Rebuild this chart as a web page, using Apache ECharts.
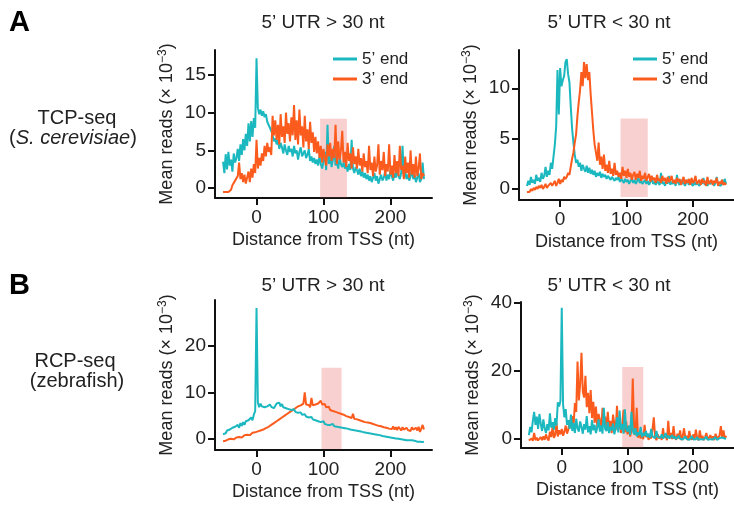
<!DOCTYPE html>
<html>
<head>
<meta charset="utf-8">
<title>Mean reads around TSS</title>
<script src="https://cdn.jsdelivr.net/npm/echarts@6/dist/echarts.min.js"></script>
<style>
  html, body { margin: 0; padding: 0; background: #fff; }
  #chart { width: 734px; height: 510px; }
</style>
</head>
<body>
<div id="chart"></div>
<script>
// distance from TSS (nt), one point every 2 nt
const startNt = -50, stepNt = 2, endNt = 250;
const xTicks = [0, 100, 200];

// TCP-seq, 5' UTR > 30 nt
const tcpLong5 = [
  3.5, 2.0, 4.5, 2.5, 4.8, 3.0, 3.8, 2.2, 4.6, 3.4,
  4.0, 5.2, 3.6, 5.8, 4.4, 6.5, 5.0, 7.2, 5.6, 8.6,
  6.2, 8.9, 6.8, 9.3, 8.0, 17.2, 10.6, 9.8, 10.4, 9.6,
  10.2, 9.4, 9.8, 8.8, 9.0, 8.0, 7.6, 7.0, 6.2, 6.6,
  5.8, 6.4, 5.2, 6.0, 5.4, 4.6, 5.8, 5.0, 4.4, 5.6,
  4.8, 5.2, 4.2, 5.6, 4.6, 5.0, 3.8, 4.8, 5.4, 4.2,
  4.6, 5.0, 4.0, 4.4, 5.2, 3.6, 4.2, 3.4, 4.0, 3.2,
  3.8, 3.0, 4.2, 3.2, 2.6, 3.6, 4.8, 2.4, 8.4, 3.2,
  4.6, 2.8, 3.8, 5.6, 3.0, 3.6, 2.6, 4.0, 3.2, 2.8,
  3.4, 2.6, 3.0, 2.2, 3.2, 2.4, 6.4, 2.6, 2.0, 2.8,
  2.4, 1.8, 2.6, 1.6, 2.2, 1.4, 2.0, 1.2, 1.8, 1.0,
  1.6, 0.8, 1.4, 2.0, 1.0, 1.6, 0.6, 1.2, 1.8, 1.0,
  1.4, 2.2, 1.0, 1.8, 1.2, 2.4, 1.6, 1.0, 2.0, 1.4,
  2.6, 1.6, 1.2, 2.0, 5.6, 1.4, 2.2, 1.2, 1.8, 1.0,
  1.6, 2.4, 1.2, 1.8, 0.8, 1.4, 2.0, 0.8, 1.2, 3.4,
  1.2
];
const tcpLong3 = [
  -0.5, -0.5, -0.5, -0.5, -0.5, -0.4, -0.2, 0.4, 0.2, 1.0,
  0.8, 1.6, 3.4, 1.2, 2.0, 0.8, 1.8, 0.6, 1.4, 2.2,
  0.8, 2.6, 1.4, 3.2, 2.0, 6.4, 2.6, 4.0, 3.0, 4.6,
  3.6, 5.6, 4.2, 6.0, 4.8, 5.4, 4.4, 9.6, 7.0, 9.0,
  6.4, 8.4, 5.8, 9.8, 6.8, 8.2, 6.0, 10.0, 7.2, 8.6,
  6.2, 9.4, 7.0, 11.0, 6.4, 9.0, 5.8, 10.4, 7.0, 8.2,
  5.4, 9.6, 6.2, 7.8, 5.2, 8.8, 6.0, 7.4, 4.8, 6.8,
  4.6, 6.2, 4.0, 5.6, 3.4, 5.2, 4.0, 3.0, 5.8, 4.2,
  6.0, 3.6, 5.2, 4.0, 8.4, 3.2, 6.2, 3.8, 5.0, 7.6,
  3.4, 4.8, 2.8, 6.0, 3.6, 4.6, 2.6, 5.4, 3.2, 4.2,
  2.6, 5.2, 3.0, 4.0, 2.2, 4.6, 2.8, 3.6, 2.0, 5.6,
  2.4, 3.4, 1.6, 4.2, 2.2, 3.0, 5.8, 1.8, 3.6, 2.4,
  4.8, 1.6, 3.2, 2.2, 5.8, 1.8, 3.0, 1.4, 4.4, 2.0,
  3.6, 1.6, 5.6, 2.4, 3.0, 1.2, 4.2, 2.0, 3.4, 1.4,
  5.0, 1.8, 3.2, 1.4, 4.2, 1.6, 2.6, 4.6, 1.2, 2.0,
  1.6
];

// TCP-seq, 5' UTR < 30 nt
const tcpShort5 = [
  0.3, 0.8, 0.4, 1.2, 0.6, 0.9, 0.5, 1.4, 0.8, 1.1,
  0.7, 1.6, 1.0, 1.3, 2.2, 1.2, 1.8, 1.4, 2.6, 2.0,
  3.2, 4.4, 6.2, 11.8, 7.4, 12.0, 10.2, 10.8, 11.2, 12.6,
  12.9, 11.4, 10.6, 8.2, 6.0, 4.6, 3.4, 2.6, 2.9, 2.2,
  2.6, 1.8, 2.4, 2.0, 1.7, 2.3, 1.6, 2.1, 1.5, 1.9,
  1.4, 1.8, 1.2, 1.6, 1.3, 1.7, 1.1, 1.5, 1.2, 1.4,
  1.0, 1.3, 1.1, 0.9, 1.2, 1.0, 0.8, 1.1, 0.9, 1.2,
  0.7, 1.0, 0.8, 0.6, 1.0, 0.7, 0.9, 0.5, 0.8, 1.0,
  0.6, 0.9, 0.5, 0.8, 1.1, 0.6, 0.8, 0.5, 0.7, 0.9,
  0.5, 0.8, 0.4, 0.7, 1.2, 0.5, 0.7, 0.4, 0.8, 0.6,
  0.4, 1.6, 0.5, 0.7, 0.3, 0.9, 0.5, 1.3, 0.4, 0.7,
  0.5, 0.8, 0.3, 1.4, 0.6, 0.4, 0.9, 0.5, 0.7, 0.3,
  0.6, 0.9, 0.4, 0.7, 0.5, 0.3, 0.8, 0.4, 0.6, 0.5,
  0.3, 0.7, 0.5, 1.1, 0.4, 0.6, 0.3, 0.8, 0.5, 0.4,
  0.7, 0.3, 0.6, 1.2, 0.4, 0.5, 0.3, 0.9, 0.4, 1.0,
  0.5
];
const tcpShort3 = [
  -0.3, -0.2, -0.3, 0.0, -0.2, 0.1, -0.1, 0.2, 0.0, 0.3,
  0.1, 0.4, 0.0, 0.2, 0.5, 0.1, 0.3, 0.2, 0.6, 0.3,
  0.4, 0.8, 0.3, 0.6, 1.0, 0.5, 0.9, 0.7, 1.2, 1.0,
  1.2, 1.6, 1.4, 2.2, 3.0, 3.6, 4.6, 5.4, 7.2, 8.6,
  9.8, 11.6, 10.2, 12.6, 11.0, 12.4, 10.8, 11.6, 9.4, 7.6,
  5.8, 4.4, 3.6, 2.8, 4.6, 2.4, 3.2, 2.0, 3.4, 1.8,
  2.4, 1.6, 2.8, 1.5, 2.0, 1.3, 2.6, 1.4, 1.8, 1.2,
  1.6, 1.0, 2.2, 1.3, 1.8, 1.1, 2.0, 1.2, 1.6, 0.9,
  1.4, 1.7, 0.9, 1.5, 1.1, 1.8, 0.8, 1.3, 1.0, 1.6,
  0.8, 1.2, 1.5, 0.7, 1.3, 0.9, 1.1, 0.6, 1.4, 0.8,
  1.0, 0.6, 1.3, 0.8, 1.1, 0.5, 1.2, 0.7, 0.9, 1.3,
  0.6, 0.9, 0.5, 1.1, 0.7, 1.0, 0.4, 0.8, 1.2, 0.5,
  0.9, 0.6, 1.0, 0.4, 1.1, 0.6, 0.8, 1.3, 0.5, 0.7,
  0.9, 0.4, 1.0, 0.6, 0.8, 0.3, 1.2, 0.5, 0.7, 0.9,
  0.4, 0.8, 0.6, 1.1, 0.3, 0.7, 0.5, 0.9, 0.4, 0.6,
  0.4
];

// RCP-seq, 5' UTR > 30 nt
const rcpLong5 = [
  1.0, 1.4, 1.2, 1.8, 1.5, 2.0, 1.6, 2.4, 2.0, 2.6,
  2.2, 3.0, 2.4, 3.4, 2.8, 3.6, 3.0, 3.8, 3.4, 4.0,
  3.6, 4.6, 4.0, 5.2, 6.0, 28.2, 7.8, 6.8, 7.6, 7.0,
  7.4, 6.8, 7.2, 7.0, 6.6, 7.4, 6.9, 7.2, 6.6, 7.0,
  7.6, 7.2, 7.8, 7.0, 7.5, 6.8, 7.2, 6.6, 6.9, 6.4,
  6.8, 6.2, 6.0, 6.4, 5.8, 6.0, 5.6, 5.4, 5.7, 5.2,
  5.0, 5.3, 4.8, 5.0, 4.6, 4.4, 4.7, 4.2, 4.4, 4.0,
  4.2, 3.8, 4.0, 3.6, 3.4, 3.8, 3.2, 3.5, 3.0, 3.4,
  3.0, 2.8, 3.2, 2.7, 3.0, 2.6, 2.8, 2.5, 2.9, 2.4,
  2.6, 2.3, 2.5, 2.2, 2.4, 2.0, 2.3, 1.9, 2.1, 1.8,
  2.0, 1.7, 1.9, 1.6, 1.8, 1.4, 1.6, 1.3, 1.5, 1.2,
  1.4, 1.1, 1.3, 1.0, 1.2, 0.9, 1.0, 0.8, 0.9, 0.6,
  0.8, 0.5, 0.7, 0.4, 0.5, 0.3, 0.4, 0.2, 0.3, 0.1,
  0.2, 0.0, 0.1, -0.1, 0.0, -0.2, -0.1, -0.3, -0.2, -0.3,
  -0.4, -0.3, -0.5, -0.4, -0.5, -0.6, -0.5, -0.6, -0.6, -0.7,
  -0.6
];
const rcpLong3 = [
  -0.5, -0.3, -0.4, -0.2, -0.1, -0.3, 0.0, 0.1, -0.1, 0.2,
  0.3, 0.1, 0.4, 0.5, 0.3, 0.6, 0.8, 0.6, 0.9, 1.0,
  0.8, 1.1, 1.3, 1.0, 1.4, 1.2, 1.6, 1.5, 1.8, 1.6,
  2.0, 1.8, 2.3, 2.1, 2.6, 2.4, 3.0, 2.8, 3.4, 3.2,
  3.8, 3.6, 4.2, 4.0, 4.6, 4.3, 5.0, 4.8, 5.4, 5.1,
  5.8, 5.5, 6.2, 5.9, 6.6, 6.2, 7.0, 6.6, 7.2, 6.8,
  7.6, 10.0, 7.4, 7.0, 7.3, 6.8, 8.8, 7.2, 6.9, 7.4,
  7.0, 7.6, 7.2, 8.2, 7.4, 7.0, 7.5, 6.8, 6.4, 6.9,
  6.2, 6.6, 6.0, 6.3, 5.8, 6.1, 5.6, 5.9, 5.4, 5.7,
  5.2, 5.5, 4.9, 5.2, 4.7, 5.0, 4.5, 5.4, 4.3, 4.6,
  4.2, 4.5, 4.0, 4.3, 3.8, 4.1, 3.6, 3.9, 3.5, 3.8,
  3.4, 3.7, 3.2, 3.5, 3.0, 3.3, 2.8, 3.1, 2.7, 3.0,
  2.5, 2.9, 2.4, 2.8, 2.2, 2.6, 2.1, 2.7, 2.0, 2.5,
  1.9, 2.6, 2.2, 1.8, 2.5, 2.0, 1.6, 2.4, 1.9, 2.3,
  1.7, 2.5, 2.0, 1.6, 2.4, 1.8, 2.6, 1.5, 2.2, 3.0,
  2.0
];

// RCP-seq, 5' UTR < 30 nt
const rcpShort5 = [
  1.2, 3.6, 2.0, 5.4, 8.0, 4.2, 6.6, 3.0, 7.4, 4.6,
  2.4, 5.8, 3.2, 1.8, 4.4, 2.6, 7.6, 3.4, 5.0, 2.8,
  6.2, 4.0, 10.8, 9.6, 11.2, 38.6, 10.2, 6.4, 8.8, 4.2,
  5.6, 3.0, 7.2, 2.4, 4.8, 1.8, 6.0, 3.2, 2.2, 5.2,
  3.6, 1.6, 4.4, 2.8, 6.8, 2.0, 3.8, 1.4, 5.6, 2.6,
  4.2, 1.8, 3.4, 5.8, 2.2, 4.0, 1.6, 9.2, 3.0, 2.4,
  5.0, 1.8, 3.6, 2.6, 4.6, 1.4, 3.2, 6.4, 2.0, 8.4,
  2.8, 4.4, 1.6, 8.8, 3.0, 2.2, 4.0, 1.2, 8.0, 2.6,
  1.4, 3.2, 0.8, 2.0, 1.2, 3.6, 0.6, 1.8, 1.0, 2.4,
  0.6, 1.6, 0.4, 3.0, 0.8, 1.2, 0.3, 2.4, 0.6, 1.0,
  0.4, 1.4, 0.2, 0.8, 1.8, 0.3, 1.0, 0.2, 0.6, 1.2,
  0.2, 0.8, 0.0, 0.5, 1.0, 0.1, 0.6, -0.1, 0.4, 0.8,
  0.0, 0.5, -0.2, 0.3, 0.9, -0.1, 0.4, 0.0, 0.6, -0.2,
  0.3, 0.0, 0.5, -0.1, 0.2, 0.7, -0.2, 0.3, 0.0, 0.4,
  -0.1, 0.2, 0.6, -0.2, 0.1, 0.3, -0.1, 0.5, 0.0, 0.2,
  0.1
];
const rcpShort3 = [
  -0.4, -0.2, 0.2, -0.5, 1.8, -0.3, 0.4, -0.4, 0.0, 0.6,
  -0.3, 0.8, -0.2, 1.4, 0.2, -0.4, 2.2, 0.6, 3.6, 0.4,
  1.2, 4.8, 0.8, 2.6, 1.4, 3.0, 1.0, 2.2, 4.0, 1.6,
  2.8, 5.6, 3.4, 6.8, 4.2, 10.6, 8.0, 22.8, 11.4, 16.2,
  25.4, 14.0, 12.2, 18.6, 9.4, 13.6, 7.6, 14.4, 6.2, 11.0,
  4.8, 9.6, 3.6, 7.4, 5.6, 2.8, 9.2, 4.0, 6.6, 2.4,
  8.0, 3.2, 5.4, 1.8, 7.2, 4.4, 2.6, 9.8, 3.0, 6.0,
  1.8, 4.2, 8.6, 2.0, 5.2, 1.4, 3.8, 0.8, 2.6, 17.8,
  3.4, 1.2, 9.2, 0.4, 2.0, 0.2, 1.4, 0.0, 4.2, 0.6,
  1.6, -0.2, 0.8, 0.2, 2.8, 6.4, 0.6, -0.3, 1.4, 0.2,
  0.8, -0.2, 3.2, 0.4, 1.2, -0.3, 5.4, 0.6, 1.8, 0.0,
  3.8, 0.4, -0.2, 1.6, 0.2, 2.6, -0.3, 0.8, 3.2, 0.2,
  1.0, -0.3, 2.4, 0.4, -0.2, 1.4, 0.0, 2.8, 0.3, -0.3,
  2.6, 0.2, 1.0, -0.3, 0.6, 1.8, -0.2, 0.4, 1.2, 0.0,
  0.8, -0.3, 1.6, 0.2, -0.2, 1.0, 3.8, 0.4, 2.6, 0.2,
  1.0
];

const teal = '#1cb8bf';
const orange = '#fb5c1e';
const font = '"Liberation Sans", Arial, sans-serif';

let positions = [];
for (let x = startNt; x <= endNt; x += stepNt) positions.push(x);

function pairs(values) {
  return values.map(function (v, i) { return [positions[i], v]; });
}

// panel layout: grid box, y range, y ticks, shaded window, which line on top
const panels = [
  {left: 215, top: 50, width: 217, height: 148, yMin: -1.3, yMax: 18.3, yTicks: [0, 5, 10, 15],
   five: tcpLong5, three: tcpLong3, box: [95, 135, -1.2, 9.2], tealTop: false},
  {left: 519, top: 50, width: 215, height: 150, yMin: -1.1, yMax: 13.8, yTicks: [0, 5, 10],
   five: tcpShort5, three: tcpShort3, box: [91, 132, -0.8, 7.0], tealTop: false},
  {left: 215, top: 300, width: 217, height: 150, yMin: -2.4, yMax: 29.9, yTicks: [0, 10, 20],
   five: rcpLong5, three: rcpLong3, box: [97, 127, -2.2, 15.3], tealTop: true},
  {left: 521, top: 302, width: 213, height: 146, yMin: -2.6, yMax: 40.3, yTicks: [0, 20, 40],
   five: rcpShort5, three: rcpShort3, box: [92, 124, -2.4, 21.2], tealTop: true}
];

let grids = [], xAxes = [], yAxes = [], series = [];
const axisLine = {show: true, onZero: false, lineStyle: {color: '#111', width: 2}};
const axisTick = {show: true, length: 7, lineStyle: {color: '#111', width: 2}};
const labelStyle = {color: '#222', fontSize: 19, fontFamily: font};

panels.forEach(function (p, i) {
  grids.push({left: p.left, top: p.top, width: p.width, height: p.height, containLabel: false});
  xAxes.push({
    type: 'value', gridIndex: i, min: -62, max: 262,
    axisLine: axisLine,
    axisTick: Object.assign({customValues: xTicks}, axisTick),
    axisLabel: Object.assign({customValues: xTicks, margin: 10}, labelStyle),
    splitLine: {show: false},
    name: 'Distance from TSS (nt)', nameLocation: 'middle', nameGap: 33,
    nameTextStyle: {color: '#222', fontSize: 18, fontFamily: font}
  });
  yAxes.push({
    type: 'value', gridIndex: i, min: p.yMin, max: p.yMax,
    axisLine: axisLine,
    axisTick: Object.assign({customValues: p.yTicks}, axisTick),
    axisLabel: Object.assign({customValues: p.yTicks, margin: 9}, labelStyle),
    splitLine: {show: false},
    name: '{a|Mean reads (× 10}{s|−3}{a|)}', nameLocation: 'middle', nameRotate: 90,
    nameGap: 38,
    nameTextStyle: {
      color: '#222', fontFamily: font,
      rich: {
        a: {fontSize: 18, lineHeight: 20, color: '#222', fontFamily: font},
        s: {fontSize: 12, lineHeight: 12, verticalAlign: 'top', color: '#222', fontFamily: font}
      }
    }
  });
  let fiveEnd = {
    name: '5’ end', type: 'line', xAxisIndex: i, yAxisIndex: i,
    data: pairs(p.five), showSymbol: false, symbol: 'none',
    lineStyle: {color: teal, width: 2}, itemStyle: {color: teal},
    z: p.tealTop ? 3 : 2,
    markArea: {
      silent: true,
      itemStyle: {color: 'rgba(242,150,150,0.45)'},
      data: [[{xAxis: p.box[0], yAxis: p.box[2]}, {xAxis: p.box[1], yAxis: p.box[3]}]]
    }
  };
  let threeEnd = {
    name: '3’ end', type: 'line', xAxisIndex: i, yAxisIndex: i,
    data: pairs(p.three), showSymbol: false, symbol: 'none',
    lineStyle: {color: orange, width: 2}, itemStyle: {color: orange},
    z: p.tealTop ? 2 : 3
  };
  series.push(fiveEnd, threeEnd);
});

function legendAt(left) {
  return {
    orient: 'vertical', left: left, top: 45, icon: 'rect',
    itemWidth: 24, itemHeight: 3, itemGap: 2, selectedMode: false,
    textStyle: {fontSize: 17, lineHeight: 18, color: '#222', fontFamily: font},
    data: ['5’ end', '3’ end']
  };
}

const titleStyle = {fontSize: 19, fontWeight: 'normal', color: '#222', fontFamily: font};
function panelTitle(text, cx, top) {
  return {text: text, left: cx, top: top, textAlign: 'center',
          padding: 0, textStyle: titleStyle};
}

let chart = echarts.init(document.getElementById('chart'), null, {renderer: 'canvas'});
chart.setOption({
  animation: false,
  backgroundColor: '#fff',
  title: [
    panelTitle('5’ UTR > 30 nt', 323, 13),
    panelTitle('5’ UTR < 30 nt', 609, 13),
    panelTitle('5’ UTR > 30 nt', 323, 276),
    panelTitle('5’ UTR < 30 nt', 609, 276)
  ],
  legend: [legendAt(328), legendAt(628)],
  grid: grids,
  xAxis: xAxes,
  yAxis: yAxes,
  series: series,
  graphic: [
    {type: 'text', left: 9, top: 8, style: {text: 'A', font: 'bold 29px ' + font, fill: '#000'}},
    {type: 'text', left: 9, top: 271, style: {text: 'B', font: 'bold 29px ' + font, fill: '#000'}},
    {type: 'text', x: 77, y: 118, style: {text: 'TCP-seq', font: '20px ' + font, fill: '#222',
      align: 'center', verticalAlign: 'middle'}},
    {type: 'text', x: 73, y: 138, style: {
      text: '{n|(}{i|S. cerevisiae}{n|)}', align: 'center', verticalAlign: 'middle',
      rich: {
        n: {font: '20px ' + font, fill: '#222'},
        i: {font: 'italic 20px ' + font, fill: '#222'}
      }}},
    {type: 'text', x: 75, y: 361, style: {text: 'RCP-seq', font: '20px ' + font, fill: '#222',
      align: 'center', verticalAlign: 'middle'}},
    {type: 'text', x: 77, y: 381, style: {text: '(zebrafish)', font: '20px ' + font, fill: '#222',
      align: 'center', verticalAlign: 'middle'}}
  ]
});
</script>
</body>
</html>
